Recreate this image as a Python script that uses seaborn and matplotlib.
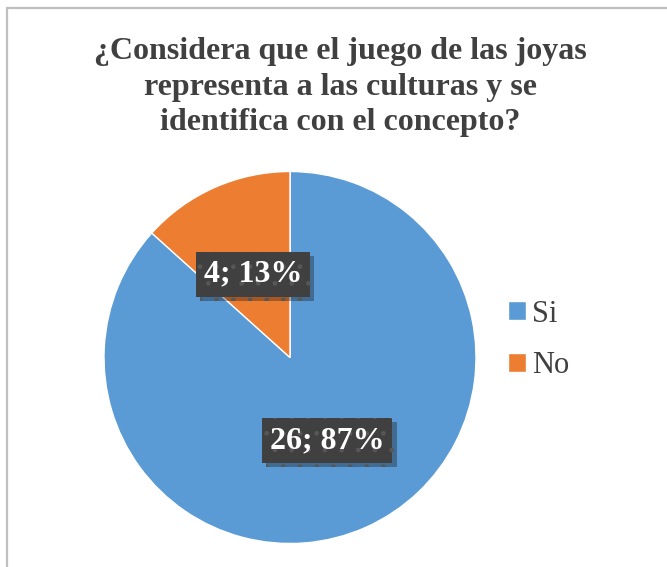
import matplotlib
matplotlib.use("Agg")
import matplotlib.pyplot as plt
import matplotlib.patheffects as pe
from matplotlib.patches import Rectangle
import seaborn as sns

# Datos del gráfico
categorias = ["Si", "No"]
valores = [26, 4]
colores = ["#5B9BD5", "#ED7D31"]
titulo = "¿Considera que el juego de las joyas\nrepresenta a las culturas y se\nidentifica con el concepto?"

sns.set_style("white")
plt.rcParams['font.family'] = ['Liberation Serif', 'DejaVu Serif']

fig = plt.figure(figsize=(6.67, 5.67), dpi=100)

# Borde del gráfico (recortado a la derecha y abajo)
fig.patches.append(Rectangle((6.5 / 667, -0.05), 1.2, 1 - 8 / 567 + 0.05,
                             transform=fig.transFigure, fill=False,
                             edgecolor="#bfbfbf", linewidth=1.6))

# Posición del pastel: centro (290, 357), radio 186 px
cx, cy, r = 290 / 667, 1 - 357.5 / 567, 186
ax = fig.add_axes([cx - r / 667, cy - r / 567, 2 * r / 667, 2 * r / 567])

total = sum(valores)
etiquetas = [f"{v}; {round(100 * v / total)}%" for v in valores]

wedges, textos = ax.pie(valores, colors=colores, startangle=90, counterclock=False,
                        labels=etiquetas, labeldistance=0.49, radius=1,
                        textprops=dict(color="white", fontsize=23, fontweight="bold",
                                       ha="center", va="center"))
for t in textos:
    t.set_bbox(dict(boxstyle="square,pad=0.25", facecolor="#404040",
                    edgecolor="#575757", linewidth=0, hatch="."))
    t.get_bbox_patch().set_path_effects([pe.SimplePatchShadow(offset=(3, -3), alpha=0.35),
                                         pe.Normal()])
ax.set_xlim(-1, 1)
ax.set_ylim(-1, 1)
ax.set_aspect("equal")
ax.axis("off")

fig.text(340 / 667, 1 - 87 / 567, titulo, ha="center", va="center",
         fontsize=23, fontweight="bold", color="#404040", linespacing=1.3)

# Leyenda
leg = fig.legend(wedges, categorias, loc="center left",
                 bbox_to_anchor=(480 / 667, 1 - 340 / 567), frameon=False,
                 fontsize=22, handlelength=0.6, handleheight=0.6,
                 handletextpad=0.2, labelspacing=0.75, labelcolor="#404040")

fig.savefig("out.png", dpi=100)
